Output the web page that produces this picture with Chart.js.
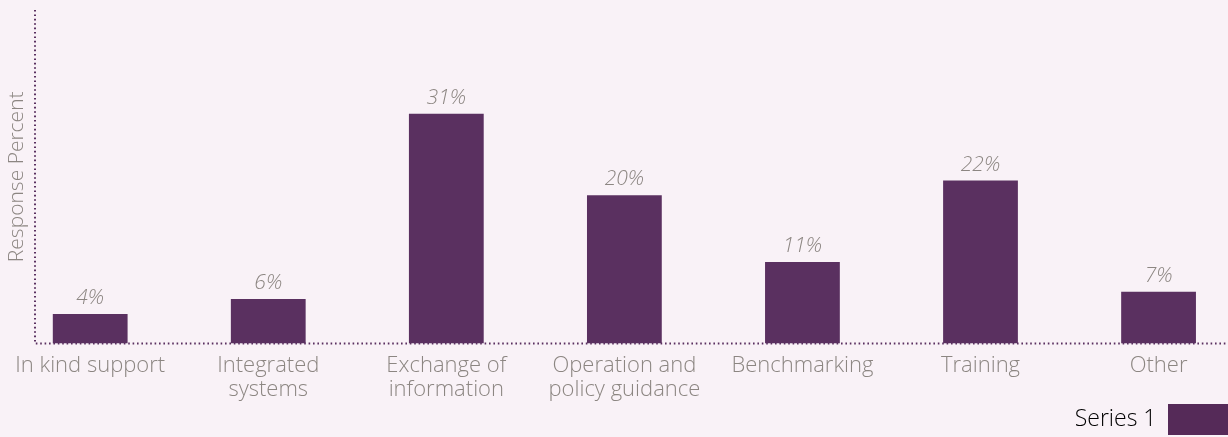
<!DOCTYPE html>
<html>
<head>
<meta charset="utf-8">
<script src="https://cdn.jsdelivr.net/npm/chart.js@4"></script>
<style>
  html, body { margin: 0; padding: 0; background: #f9f2f7; }
  #wrap { width: 1228px; height: 437px; }
</style>
</head>
<body>
<div id="wrap"><canvas id="chart"></canvas></div>
<script>
const categories = [
    ["In kind support"],
    ["Integrated", "systems"],
    ["Exchange of", "information"],
    ["Operation and", "policy guidance"],
    ["Benchmarking"],
    ["Training"],
    ["Other"]
];
const series1 = [4, 6, 31, 20, 11, 22, 7];

const barColor = "#5a3060";
const textColor = "#8c8682";
const fontFamily = "'Open Sans', Lato, sans-serif";

// percent labels above each bar + dotted axis lines
const extras = {
    id: "extras",
    beforeDatasetsDraw(chart) {
        const ctx = chart.ctx;
        const a = chart.chartArea;
        ctx.save();
        ctx.strokeStyle = barColor;
        ctx.lineWidth = 2;
        ctx.setLineDash([1.6, 2.8]);
        ctx.beginPath();
        ctx.moveTo(a.left, a.top);
        ctx.lineTo(a.left, a.bottom);
        ctx.lineTo(a.right, a.bottom);
        ctx.stroke();
        ctx.restore();
    },
    afterDatasetsDraw(chart) {
        const ctx = chart.ctx;
        const meta = chart.getDatasetMeta(0);
        ctx.save();
        ctx.fillStyle = textColor;
        ctx.font = "italic 300 21px " + fontFamily;
        ctx.textAlign = "center";
        ctx.textBaseline = "alphabetic";
        meta.data.forEach((bar, i) => {
            ctx.fillText(series1[i] + "%", bar.x, bar.y - 10);
        });
        ctx.restore();
    }
};

new Chart(document.getElementById("chart"), {
    type: "bar",
    data: {
        datasets: [{
            label: "Series 1",
            data: series1.map((v, i) => ({ x: i, y: v })),
            backgroundColor: barColor,
            borderWidth: 0,
            barPercentage: 0.42,
            categoryPercentage: 1
        }]
    },
    options: {
        responsive: true,
        maintainAspectRatio: false,
        animation: false,
        layout: { padding: { top: 10, left: 0, right: 0, bottom: -8 } },
        plugins: {
            tooltip: { enabled: false },
            legend: {
                position: "bottom",
                align: "start",
                rtl: true,
                labels: {
                    boxWidth: 60,
                    boxHeight: 31,
                    color: textColor,
                    font: { family: fontFamily, size: 23, weight: 300 },
                    padding: 0,
                    generateLabels: (chart) => [{
                        text: "Series 1",
                        fillStyle: "#552a58",
                        strokeStyle: "#552a58",
                        lineWidth: 0,
                        datasetIndex: 0
                    }]
                }
            }
        },
        scales: {
            x: {
                type: "linear",
                offset: false,
                min: -0.31,
                max: 6.39,
                grid: { display: false },
                border: { display: false },
                afterBuildTicks: (axis) => { axis.ticks = categories.map((c, i) => ({ value: i })); },
                ticks: {
                    autoSkip: false,
                    maxRotation: 0,
                    color: textColor,
                    padding: 2,
                    font: { family: fontFamily, size: 22, weight: 300, lineHeight: 1.1 },
                    callback: (v) => categories[v]
                }
            },
            y: {
                min: 0,
                max: 45,
                grid: { display: false },
                border: { display: false },
                ticks: { display: false },
                afterFit: (axis) => { axis.width = 35; },
                title: {
                    display: true,
                    text: "Response Percent",
                    color: textColor,
                    padding: { top: 4, bottom: 0 },
                    font: { family: fontFamily, size: 21, weight: 300 }
                }
            }
        }
    },
    plugins: [extras]
});
</script>
</body>
</html>
